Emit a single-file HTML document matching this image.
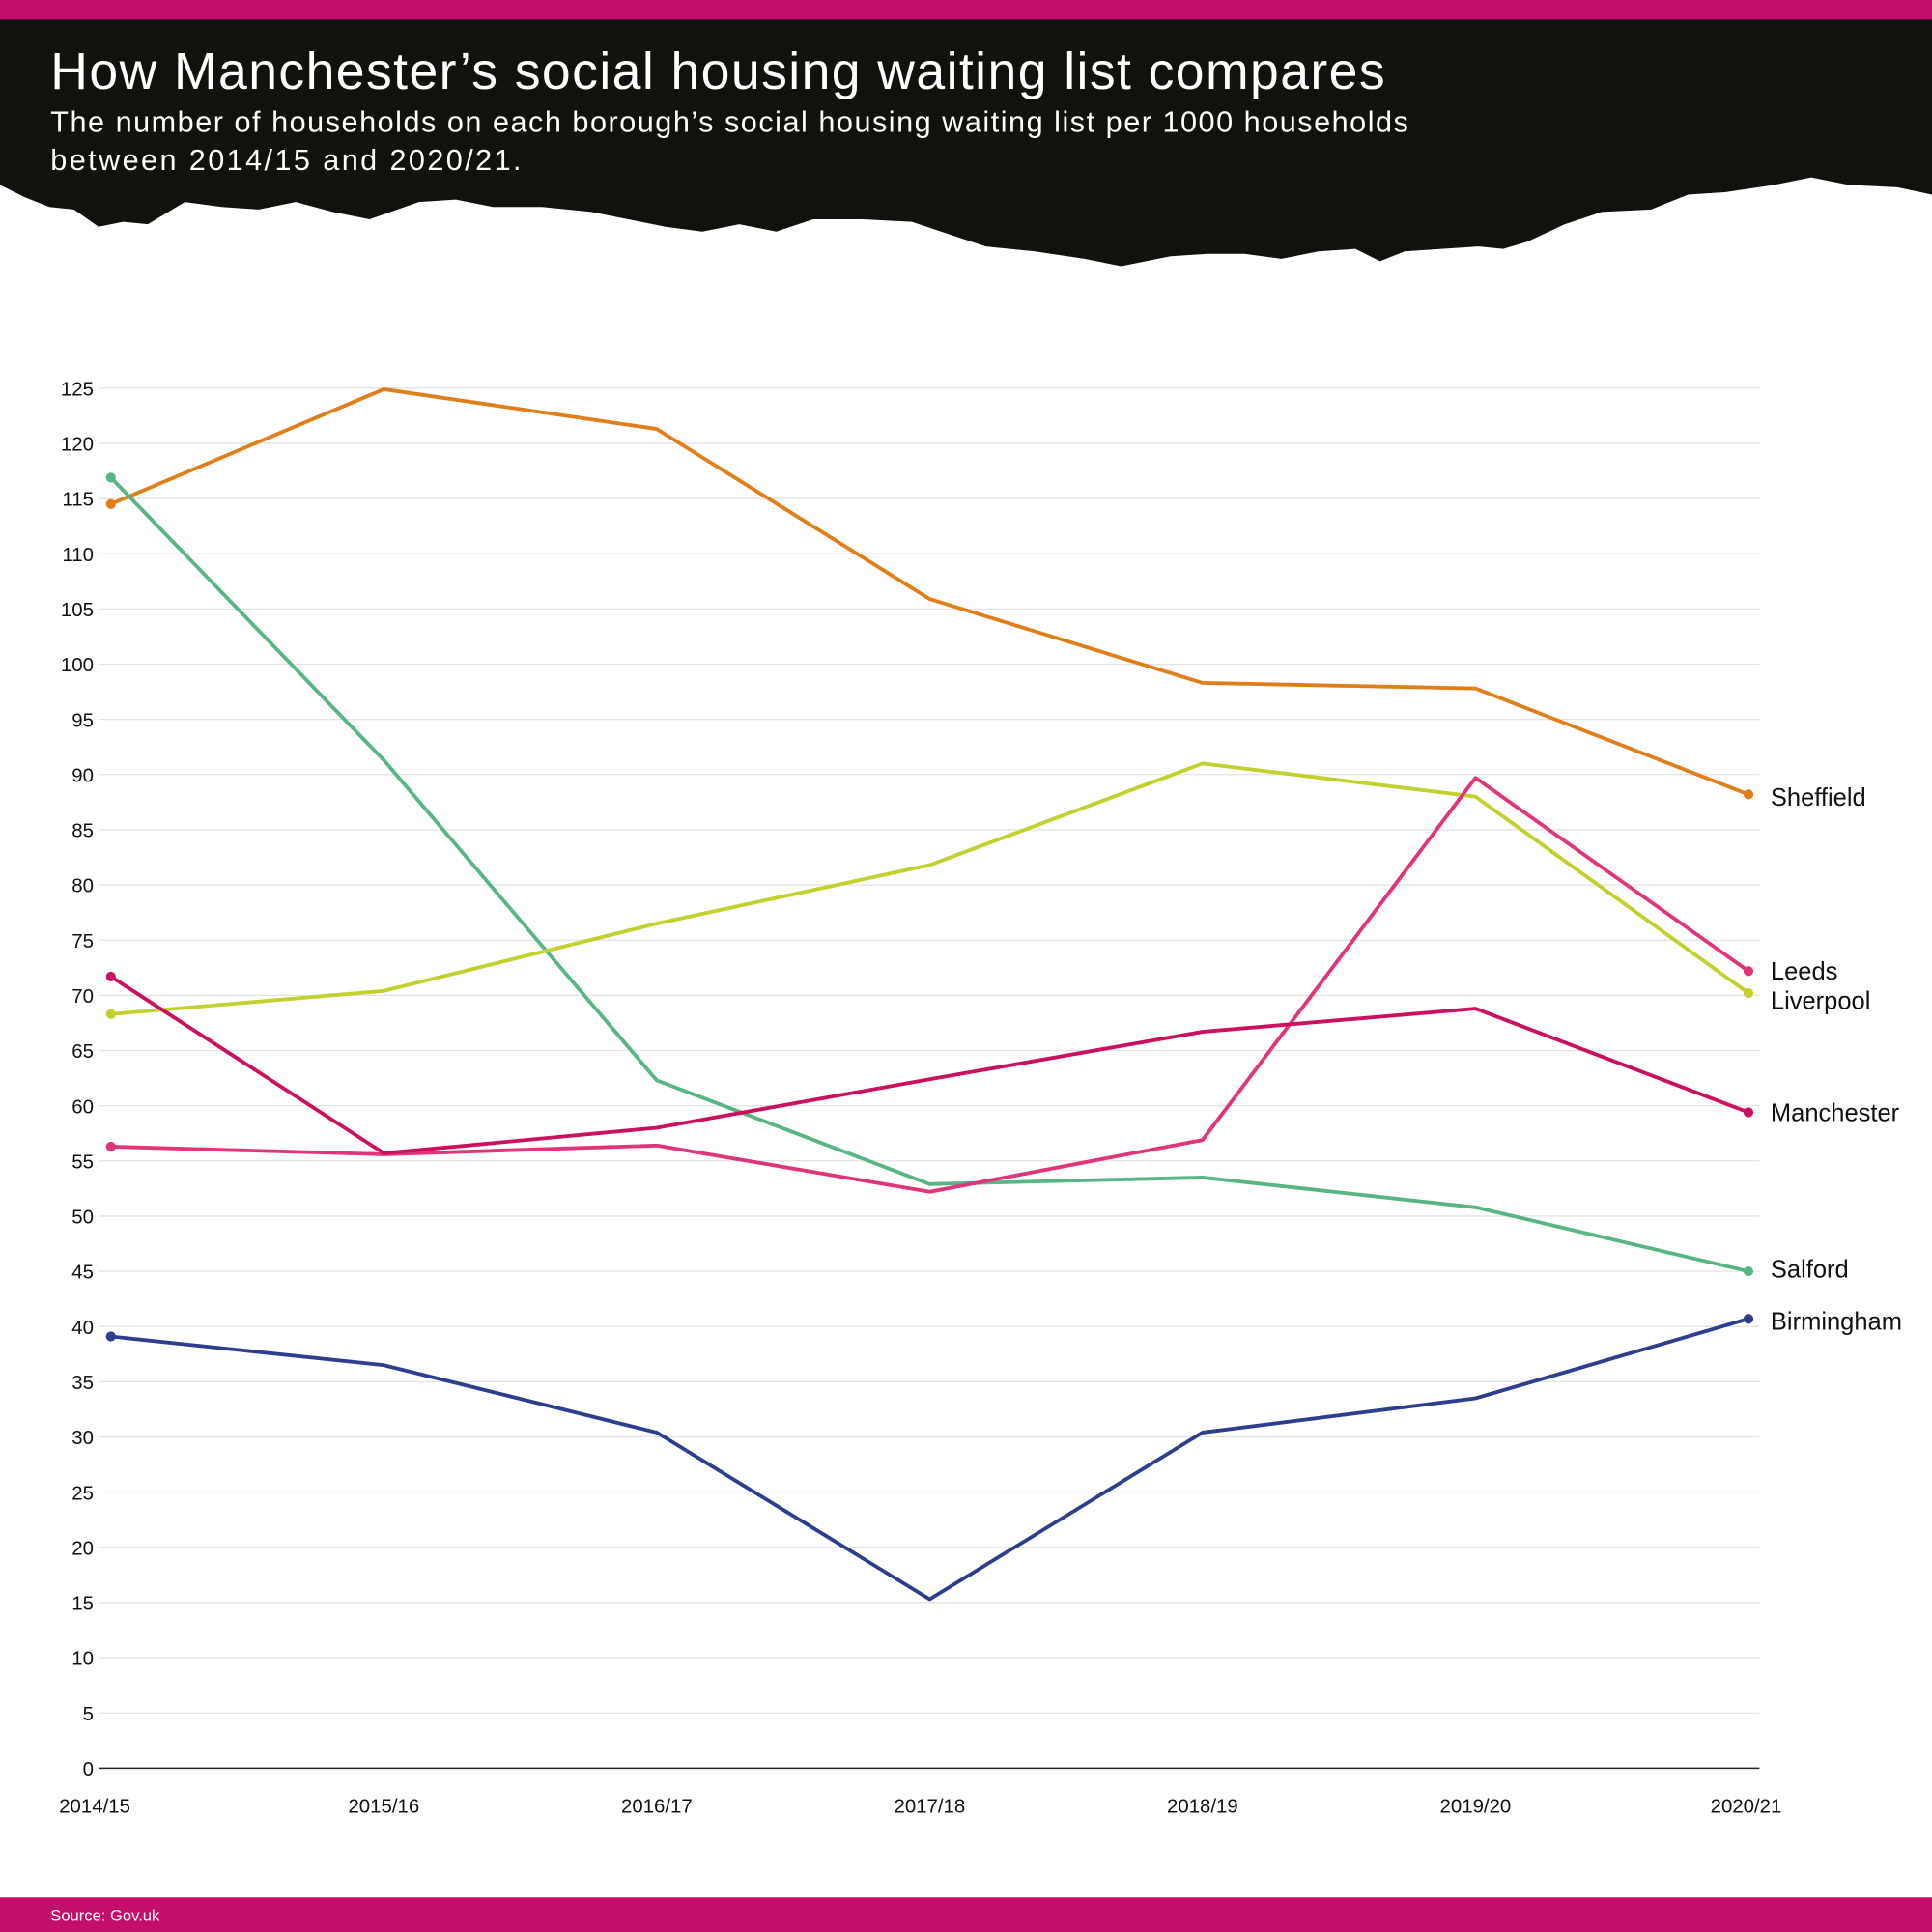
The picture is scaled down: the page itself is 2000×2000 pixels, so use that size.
<!DOCTYPE html>
<html><head><meta charset="utf-8"><style>
html,body{margin:0;padding:0;background:#fff;}
svg{display:block;font-family:"Liberation Sans",sans-serif;}
</style></head><body>
<svg id="chart" width="2000" height="2000" viewBox="0 0 1568 1568" xmlns="http://www.w3.org/2000/svg">
<rect x="0" y="0" width="1568" height="17" fill="#c30e6b"/>
<path fill="#12110d" d="M0,16 L1568,16 L1568,158 L1540,152 L1500,150 L1470,144 L1440,150 L1400,156 L1370,158 L1340,170 L1300,172 L1270,182 L1240,196 L1220,202 L1200,200 L1170,202 L1140,204 L1120,212 L1100,202 L1070,204 L1040,210 L1010,206 L980,206 L950,208 L930,212 L910,216 L880,210 L840,204 L800,200 L770,190 L740,180 L700,178 L660,178 L630,188 L600,182 L570,188 L540,184 L510,178 L480,172 L440,168 L400,168 L370,162 L340,164 L300,178 L270,172 L240,164 L210,170 L180,168 L150,164 L120,182 L100,180 L80,184 L60,170 L40,168 L20,160 L0,150 Z"/>
<text x="41" y="72" fill="#fff" font-size="42" textLength="1083" lengthAdjust="spacing">How Manchester’s social housing waiting list compares</text>
<text fill="#fff" font-size="24"><tspan x="41" y="107" textLength="1102" lengthAdjust="spacing">The number of households on each borough’s social housing waiting list per 1000 households</tspan></text>
<text fill="#fff" font-size="24" x="41" y="138" textLength="382" lengthAdjust="spacing">between 2014/15 and 2020/21.</text>
<g id="grid"></g>
<g id="lines"></g>
<rect x="0" y="1540" width="1568" height="28" fill="#c30e6b"/>
<text x="41" y="1559" fill="#fff" font-size="13">Source: Gov.uk</text>
</svg>
<script>
const categories=["2014/15","2015/16","2016/17","2017/18","2018/19","2019/20","2020/21"];
const yTicks=[0,5,10,15,20,25,30,35,40,45,50,55,60,65,70,75,80,85,90,95,100,105,110,115,120,125];
const seriesNames=["Sheffield","Salford","Liverpool","Leeds","Manchester","Birmingham"];
const sheffield=[114.5,124.9,121.3,105.9,98.3,97.8,88.2];
const salford=[116.9,91.3,62.3,52.9,53.5,50.8,45];
const liverpool=[68.3,70.4,76.5,81.8,91,88,70.2];
const leeds=[56.3,55.6,56.4,52.2,56.9,89.7,72.2];
const manchester=[71.7,55.7,58,62.4,66.7,68.8,59.4];
const birmingham=[39.1,36.5,30.4,15.3,30.4,33.5,40.7];
const colors=["#e07f1a","#5ab585","#c3d12f","#e0357a","#cc1060","#2e3e8f"];
const labelOffsets=[2,-2,6,0,0,2];
const NS="http://www.w3.org/2000/svg";
const X=i=>90+i*(1419-90)/(categories.length-1);
const Y=v=>1435-v*(1435-315)/125;
const grid=document.getElementById('grid');
function mk(t,a,p){const e=document.createElementNS(NS,t);for(const k in a)e.setAttribute(k,a[k]);p.appendChild(e);return e;}
yTicks.forEach(t=>{
  const l=mk('line',{x1:80,x2:1428,y1:Y(t),y2:Y(t),stroke:t===0?'#222':'#e3e3e3','stroke-width':t===0?1.2:1},grid);
  
  
  const tx=mk('text',{x:76,y:Y(t)+6,'text-anchor':'end','font-size':16,fill:'#111'},grid);
  tx.textContent=t;
  
  
});
categories.forEach((c,i)=>{
  const anchor=i===0?'start':(i===categories.length-1?'end':'middle');
  const xx=i===0?48:(i===categories.length-1?1446:X(i));
  const tx=mk('text',{x:xx,y:1471,'text-anchor':anchor,'font-size':16,fill:'#111'},grid);
  tx.textContent=c;
  
  
});
const lines=document.getElementById('lines');
[sheffield,salford,liverpool,leeds,manchester,birmingham].forEach((s,k)=>{
  const d=s.map((v,i)=>(i?'L':'M')+X(i)+','+Y(v)).join(' ');
  const p=mk('path',{d:d,fill:'none',stroke:colors[k],'stroke-width':3,'stroke-linejoin':'round'},lines);
  
  
  [0,s.length-1].forEach(i=>{
    const c=mk('circle',{cx:X(i),cy:Y(s[i]),r:4,fill:colors[k]},lines);
    
    
  });
  const t=mk('text',{x:1437,y:Y(s[s.length-1])+labelOffsets[k]+7,'font-size':20,fill:'#111'},lines);
  t.textContent=seriesNames[k];
  
  
});
</script>
</body></html>
